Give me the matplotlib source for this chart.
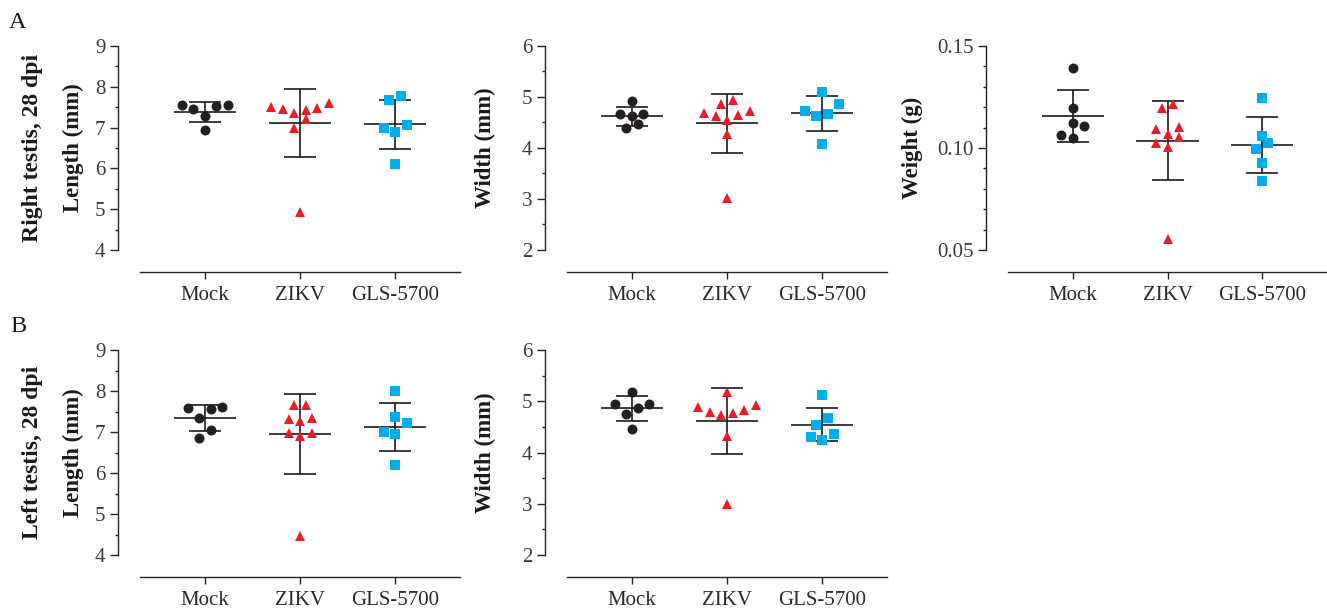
import numpy as np
import matplotlib
matplotlib.use("Agg")
import matplotlib.pyplot as plt
from matplotlib.ticker import MultipleLocator, FormatStrFormatter

groups = ["Mock", "ZIKV", "GLS-5700"]

# right testis
right_len_mock = [7.55, 7.46, 7.29, 6.93, 7.54, 7.56]
right_len_zikv = [7.50, 7.46, 7.35, 7.21, 4.94, 7.43, 6.98, 7.49, 7.61]
right_len_gls = [6.98, 7.67, 6.88, 6.11, 7.77, 7.07]

right_wid_mock = [4.63, 4.67, 4.93, 4.39, 4.66, 4.47]
right_wid_zikv = [4.87, 4.69, 4.55, 4.94, 4.63, 3.02, 4.28, 4.65, 4.73]
right_wid_gls = [4.86, 4.67, 5.10, 4.08, 4.63, 4.73]

right_wt_mock = [0.1107, 0.1392, 0.1195, 0.1123, 0.1050, 0.1063]
right_wt_zikv = [0.1104, 0.1025, 0.1215, 0.1071, 0.1006, 0.0554, 0.1198, 0.1055, 0.1092]
right_wt_gls = [0.1025, 0.0994, 0.1245, 0.0838, 0.1060, 0.0927]

# left testis
left_len_mock = [7.62, 7.56, 6.85, 7.05, 7.33, 7.58]
left_len_zikv = [7.33, 6.97, 7.66, 7.28, 6.90, 4.46, 7.66, 7.32, 6.97]
left_len_gls = [6.99, 8.00, 7.36, 6.95, 6.20, 7.23]

left_wid_mock = [4.95, 4.86, 5.19, 4.46, 4.75, 4.95]
left_wid_zikv = [4.89, 4.80, 4.73, 5.19, 4.32, 3.00, 4.78, 4.82, 4.93]
left_wid_gls = [4.37, 4.67, 5.12, 4.24, 4.54, 4.31]

markers = ["o", "^", "s"]
colors = ["#231f20", "#ed1c24", "#00aeef"]
msizes = [7.2, 7.8, 7.2]

W, H = 1327, 608
SERIF = ["Liberation Serif", "DejaVu Serif"]
plt.rcParams["font.family"] = SERIF


def rect(x0, x1, ytop, ybot):
    return [x0 / W, 1 - ybot / H, (x1 - x0) / W, (ybot - ytop) / H]


def swarm(vals, ax, step_px=11.5, bin_px=12.0):
    # GraphPad-like: bin close values in rows, spread each row about the centre
    vals = np.asarray(vals, dtype=float)
    y0, y1 = ax.get_ylim()
    x0, x1 = ax.get_xlim()
    ppy = ax.bbox.height / (y1 - y0)
    ppx = ax.bbox.width / (x1 - x0)
    order = np.argsort(vals, kind="stable")
    rows = []
    for i in order:
        if rows and (vals[i] - vals[rows[-1][0]]) * ppy < bin_px:
            rows[-1].append(i)
        else:
            rows.append([i])
    off = np.zeros(len(vals))
    for r in rows:
        n = len(r)
        for k, i in enumerate(r):
            if n % 2:
                slot = ((k + 1) // 2) * (-1 if k % 2 else 1)
            else:
                slot = (k // 2 + 0.5) * (-1 if k % 2 == 0 else 1)
            off[i] = slot * step_px / ppx
    return off


fig = plt.figure(figsize=(W / 100, H / 100), dpi=100)

panels = [
    ([right_len_mock, right_len_zikv, right_len_gls], rect(140, 460, 46, 250), (4, 9), 1, 0.5, "%d", "Length (mm)", 73, 148),
    ([right_wid_mock, right_wid_zikv, right_wid_gls], rect(567, 887, 46, 250), (2, 6), 1, 0.5, "%d", "Width (mm)", 485, 148),
    ([right_wt_mock, right_wt_zikv, right_wt_gls], rect(1008, 1327, 46, 250), (0.05, 0.15), 0.05, 0.01, "%.2f", "Weight (g)", 912, 148),
    ([left_len_mock, left_len_zikv, left_len_gls], rect(140, 460, 350, 555), (4, 9), 1, 0.5, "%d", "Length (mm)", 73, 452.5),
    ([left_wid_mock, left_wid_zikv, left_wid_gls], rect(567, 887, 350, 555), (2, 6), 1, 0.5, "%d", "Width (mm)", 485, 452.5),
]

off_pt = 22 * 0.72
for data, pos, ylim, major, minor, fmt, ylab, lx, ly in panels:
    ax = fig.add_axes(pos)
    ax.set_xlim(-0.684, 2.684)
    ax.set_ylim(*ylim)
    for s in ["top", "right"]:
        ax.spines[s].set_visible(False)
    for s in ["left", "bottom"]:
        ax.spines[s].set_position(("outward", off_pt))
        ax.spines[s].set_linewidth(1.0)
        ax.spines[s].set_color("#222222")
    ax.yaxis.set_major_locator(MultipleLocator(major))
    ax.yaxis.set_minor_locator(MultipleLocator(minor))
    ax.yaxis.set_major_formatter(FormatStrFormatter(fmt))
    ax.set_xticks(range(len(groups)))
    ax.set_xticklabels(groups)
    ax.tick_params(axis="y", which="major", length=5.5, width=1.0, pad=3.5,
                   labelsize=15, labelcolor="#3a3a3a", color="#222222")
    ax.tick_params(axis="y", which="minor", length=2.5, width=1.0, color="#222222")
    ax.tick_params(axis="x", length=5, width=1.0, pad=5, labelsize=15,
                   labelcolor="#2a2a2a", color="#222222")
    for i, vals in enumerate(data):
        m = np.mean(vals)
        sd = np.std(vals, ddof=1)
        ax.errorbar(i, m, yerr=sd, fmt="none", ecolor="#1a1a1a", elinewidth=1.2,
                    capsize=11.3, capthick=1.2, zorder=2)
        ax.hlines(m, i - 0.33, i + 0.33, color="#1a1a1a", lw=1.2, zorder=2)
        xs = i + swarm(vals, ax)
        ax.plot(xs, vals, linestyle="none", marker=markers[i], color=colors[i],
                markersize=msizes[i], markeredgewidth=0, zorder=3, clip_on=False)
    fig.text(lx / W, 1 - ly / H, ylab, rotation=90, ha="center", va="center",
             fontsize=16.5, fontweight="bold", color="#1a1a1a")

fig.text(33 / W, 1 - 148 / H, "Right testis, 28 dpi", rotation=90, ha="center",
         va="center", fontsize=17, fontweight="bold", color="#1a1a1a")
fig.text(33 / W, 1 - 452.5 / H, "Left testis, 28 dpi", rotation=90, ha="center",
         va="center", fontsize=17, fontweight="bold", color="#1a1a1a")
fig.text(9 / W, 1 - 22 / H, "A", ha="left", va="center", fontsize=17.5, color="#1a1a1a")
fig.text(10 / W, 1 - 326 / H, "B", ha="left", va="center", fontsize=17.5, color="#1a1a1a")

fig.savefig("out.png", dpi=100)
